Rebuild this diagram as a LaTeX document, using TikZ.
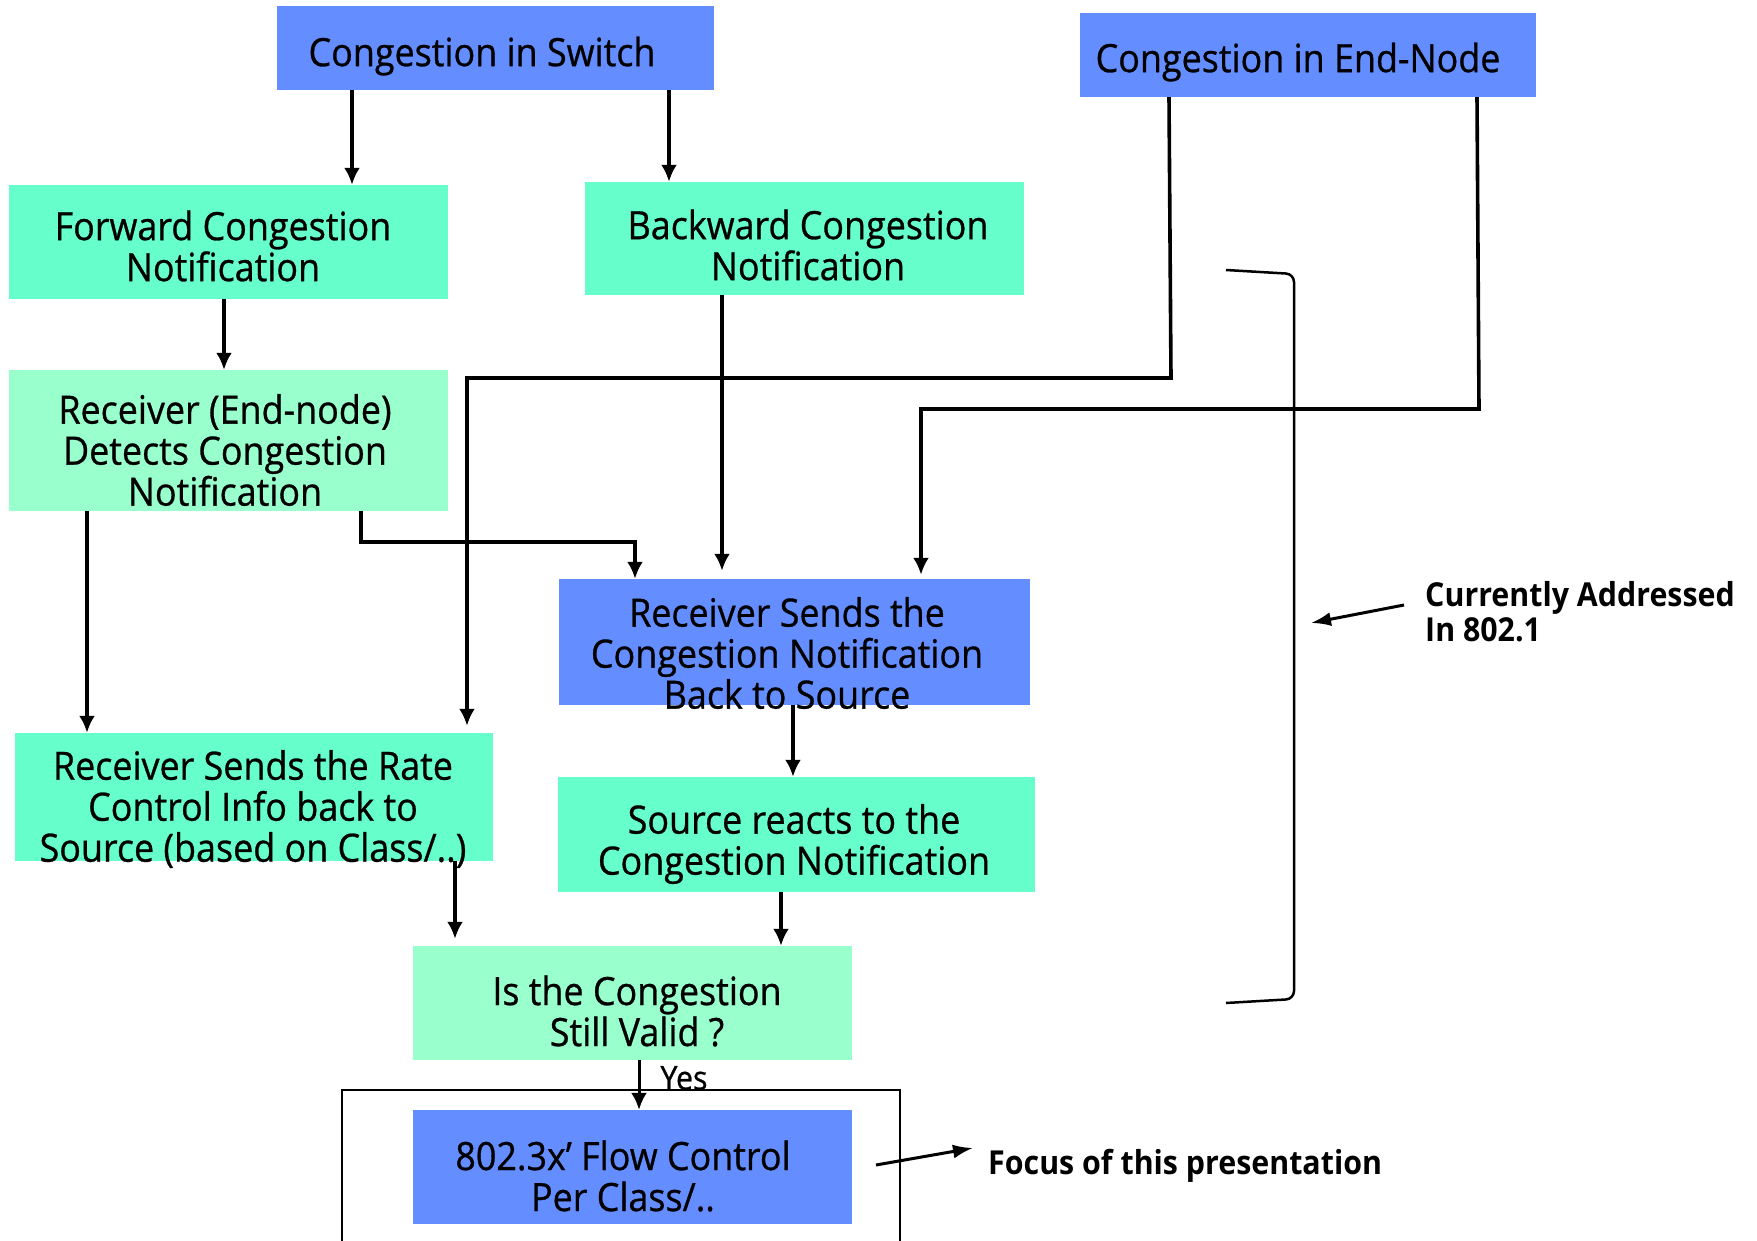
\documentclass[tikz,border=0pt]{standalone}
\usepackage{fontspec}
\setmainfont{Open Sans}[FakeStretch=0.92, UprightFeatures={FakeBold=0.7}]
\usetikzlibrary{arrows.meta}
\definecolor{boxblue}{RGB}{100,142,255}
\definecolor{boxaqua}{RGB}{102,255,204}
\definecolor{boxmint}{RGB}{153,255,204}
\begin{document}
\begin{tikzpicture}[x=1pt,y=-1pt,
  box/.style={inner sep=0pt},
  blue/.style={box, fill=boxblue},
  aqua/.style={box, fill=boxaqua},
  mint/.style={box, fill=boxmint},
  txt/.style={inner sep=0pt, align=center, font=\fontsize{39}{41}\selectfont},
  conn/.style={line width=3.6pt, -{Latex[length=17pt,width=16pt]}},
  thin/.style={line width=2.5pt},
  note/.style={inner sep=0pt, align=left, anchor=west, font=\fontsize{33}{35}\bfseries\selectfont},
  ]
\useasboundingbox (0,0) rectangle (1757,1241);
% boxes (centre, width, height)
\node[blue, minimum width=437pt, minimum height=84pt] (sw) at (495.5,48) {};
\node[txt] (swt) at (482,56) {Congestion in Switch};
\node[blue, minimum width=456pt, minimum height=84pt] (en) at (1308,55) {};
\node[txt] (ent) at (1298,62) {Congestion in End-Node};
\node[aqua, minimum width=439pt, minimum height=114pt] (fw) at (228.5,242) {};
\node[txt] (fwt) at (223,246) {Forward Congestion\\Notification};
\node[aqua, minimum width=439pt, minimum height=113pt] (bw) at (804.5,238.5) {};
\node[txt] (bwt) at (808,245) {Backward Congestion\\Notification};
\node[mint, minimum width=439pt, minimum height=141pt] (dt) at (228.5,440.5) {};
\node[txt] (dtt) at (225,450) {Receiver (End-node)\\Detects Congestion\\Notification};
\node[blue, minimum width=471pt, minimum height=126pt] (rs) at (794.5,642) {};
\node[txt] (rst) at (787,653) {Receiver Sends the\\Congestion Notification\\Back to Source};
\node[aqua, minimum width=478pt, minimum height=128pt] (rc) at (254,797) {};
\node[txt] (rct) at (253,809) {Receiver Sends the Rate\\Control Info back to\\Source (based on Class/..)};
\node[aqua, minimum width=477pt, minimum height=115pt] (sr) at (796.5,834.5) {};
\node[txt] (srt) at (794,844) {Source reacts to the\\Congestion Notification};
\node[mint, minimum width=439pt, minimum height=114pt] (ic) at (632.5,1003) {};
\node[txt] (ict) at (637,1011) {Is the Congestion\\Still Valid ?};
\node[blue, minimum width=439pt, minimum height=114pt] (fc) at (632.5,1167) {};
\node[txt] (fct) at (623,1176) {802.3x’ Flow Control\\Per Class/..};
% outline round the flow-control box
\draw[thin] (342,1250) -- (342,1090) -- (900,1090) -- (900,1250);
% column coordinates
\coordinate (x352) at (352,0);
\coordinate (x669) at (669,0);
\coordinate (x224) at (224,0);
\coordinate (x87) at (87,0);
\coordinate (x361) at (361,0);
\coordinate (x635) at (635,0);
\coordinate (x722) at (722,0);
\coordinate (x793) at (793,0);
\coordinate (x455) at (455,0);
\coordinate (x781) at (781,0);
\coordinate (x639) at (639,0);
\coordinate (x467) at (467,0);
\coordinate (x921) at (921,0);
% connectors
\draw[conn] (sw.south -| x352) -- (fw.north -| x352);
\draw[conn] (sw.south -| x669) -- (bw.north -| x669);
\draw[conn] (fw.south -| x224) -- (dt.north -| x224);
\draw[conn] (dt.south -| x87) -- (rc.north -| x87);
\draw[conn] (dt.south -| x361) -- (361,542) -- (635,542) -- (rs.north -| x635);
\draw[conn] (bw.south -| x722) -- ([yshift=8pt]rs.north -| x722);
\draw[conn] ([xshift=-139pt]en.south) -- (1171,378) -- (467,378) -- ([yshift=7pt]rc.north -| x467);
\draw[conn] ([xshift=169pt]en.south) -- (1479,409) -- (921,409) -- ([yshift=4pt]rs.north -| x921);
\draw[conn] (rs.south -| x793) -- (sr.north -| x793);
\draw[conn] (rc.south -| x455) -- ([yshift=7pt]ic.north -| x455);
\draw[conn] (sr.south -| x781) -- (ic.north -| x781);
\draw[conn, line width=3pt] (ic.south -| x639) -- (fc.north -| x639);
\node[inner sep=0pt, font=\fontsize{33}{35}\selectfont] (yes) at (684,1078) {Yes};
% bracket
\draw[thin, rounded corners=8pt] (1226,270) -- (1294,274) -- (1294,999) -- (1226,1003);
% notes
\node[note] (cur) at (1425,612) {Currently Addressed\\In 802.1};
\coordinate (curtip) at (1311,623);
\draw[line width=3pt, -{Latex[length=20pt,width=14pt]}] ([xshift=-21pt,yshift=7pt]cur.west) -- (curtip);
\node[note] (foc) at (988,1166) {Focus of this presentation};
\coordinate (focs) at (876,1165);
\draw[line width=3pt, -{Latex[length=20pt,width=14pt]}] (focs) -- ([xshift=-15pt,yshift=18pt]foc.west);
\end{tikzpicture}
\end{document}
